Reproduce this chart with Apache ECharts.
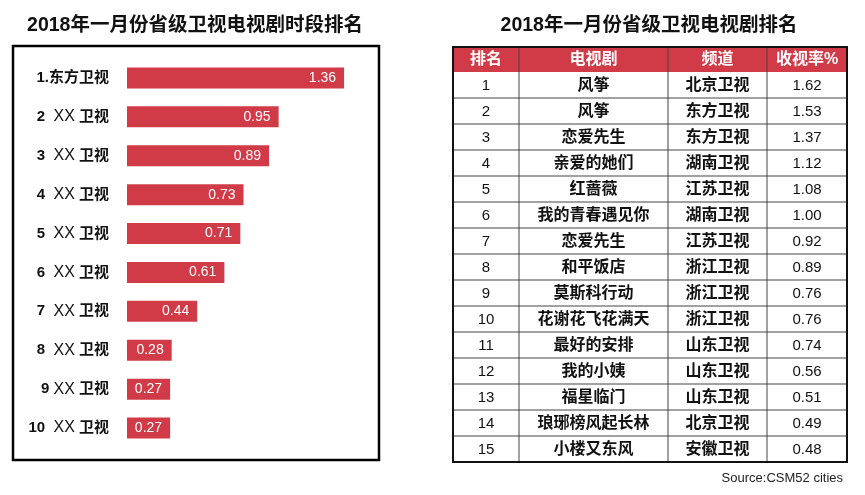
<!DOCTYPE html>
<html>
<head>
<meta charset="utf-8">
<script src="https://cdn.jsdelivr.net/npm/echarts@6/dist/echarts.min.js"></script>
<style>
  html, body { margin: 0; padding: 0; background: #fff; }
  #main { width: 865px; height: 495px; }
</style>
</head>
<body>
<div id="main"></div>
<script>
// 左边：时段排名
const channels = ["1.东方卫视", "2  XX 卫视", "3  XX 卫视", "4  XX 卫视", "5  XX 卫视",
  "6  XX 卫视", "7  XX 卫视", "8  XX 卫视", "9 XX 卫视", "10  XX 卫视"];
const slotRatings = [1.36, 0.95, 0.89, 0.73, 0.71, 0.61, 0.44, 0.28, 0.27, 0.27];

// 右边：电视剧排名表
const headers = ["排名", "电视剧", "频道", "收视率%"];
const ranks = ["1", "2", "3", "4", "5", "6", "7", "8", "9", "10", "11", "12", "13", "14", "15"];
const dramas = ["风筝", "风筝", "恋爱先生", "亲爱的她们", "红蔷薇", "我的青春遇见你", "恋爱先生",
  "和平饭店", "莫斯科行动", "花谢花飞花满天", "最好的安排", "我的小姨", "福星临门", "琅琊榜风起长林", "小楼又东风"];
const dramaChannels = ["北京卫视", "东方卫视", "东方卫视", "湖南卫视", "江苏卫视", "湖南卫视", "江苏卫视",
  "浙江卫视", "浙江卫视", "浙江卫视", "山东卫视", "山东卫视", "山东卫视", "北京卫视", "安徽卫视"];
const dramaRatings = ["1.62", "1.53", "1.37", "1.12", "1.08", "1.00", "0.92", "0.89", "0.76", "0.76",
  "0.74", "0.56", "0.51", "0.49", "0.48"];

const RED = "#d13b47";
const FONT = "'Liberation Sans', 'Noto Sans CJK SC', sans-serif";

// 表格布局（像素）
const T_LEFT = 453, T_RIGHT = 847, T_TOP = 47, HEAD_H = 25, ROW_H = 26;
const colEdges = [0, 66, 215, 314, 394]; // 相对表格左边
const tableBottom = T_TOP + HEAD_H + ROW_H * ranks.length;

let mycharts = echarts.init(document.getElementById("main"));

let graphics = [
  // 左边框
  {
    type: "rect",
    shape: { x: 13, y: 46, width: 366, height: 414 },
    style: { fill: "none", stroke: "#000", lineWidth: 2.5 },
    z: 10,
  },
  // 表头
  {
    type: "rect",
    shape: { x: T_LEFT, y: T_TOP, width: T_RIGHT - T_LEFT, height: HEAD_H },
    style: { fill: RED },
  },
  // 表格外框
  {
    type: "rect",
    shape: { x: T_LEFT, y: T_TOP, width: T_RIGHT - T_LEFT, height: tableBottom - T_TOP },
    style: { fill: "none", stroke: "#111", lineWidth: 2 },
    z: 10,
  },
  {
    type: "text",
    right: 22,
    top: 472,
    style: { text: "Source:CSM52 cities", font: "13px " + FONT, fill: "#222" },
  },
];
headers.forEach((h, i) => {
  graphics.push({
    type: "text",
    x: T_LEFT + (colEdges[i] + colEdges[i + 1]) / 2,
    y: T_TOP + HEAD_H / 2,
    style: {
      text: h, fill: "#fff", font: "bold 16px " + FONT,
      align: "center", verticalAlign: "middle",
    },
  });
  if (i > 0) {
    graphics.push({
      type: "line",
      shape: { x1: T_LEFT + colEdges[i], y1: T_TOP, x2: T_LEFT + colEdges[i], y2: tableBottom },
      style: { stroke: "#444", lineWidth: 1 },
      z: 5,
    });
  }
});

let option = {
  animation: false,
  textStyle: { fontFamily: FONT },
  title: [
    {
      text: "2018年一月份省级卫视电视剧时段排名",
      left: 190,
      top: 11,
      textAlign: "center",
      textStyle: { fontSize: 19.5, fontWeight: "bold", color: "#111", fontFamily: FONT },
    },
    {
      text: "2018年一月份省级卫视电视剧排名",
      left: 644,
      top: 11,
      textAlign: "center",
      textStyle: { fontSize: 19.5, fontWeight: "bold", color: "#111", fontFamily: FONT },
    },
  ],
  grid: [
    { left: 127, top: 58.5, width: 255.4, height: 389 },
    { left: T_LEFT, top: T_TOP + HEAD_H, width: T_RIGHT - T_LEFT, height: ROW_H * ranks.length },
  ],
  xAxis: [
    { gridIndex: 0, type: "value", min: 0, max: 1.6, show: false },
    { gridIndex: 1, type: "value", min: 0, max: T_RIGHT - T_LEFT, show: false },
  ],
  yAxis: [
    {
      gridIndex: 0,
      type: "category",
      inverse: true,
      data: channels,
      axisLine: { show: false },
      axisTick: { show: false },
      axisLabel: {
        margin: 18,
        color: "#111",
        fontSize: 15,
        fontWeight: "bold",
        fontFamily: FONT,
        formatter: (v) => v.replace("XX", "{x|XX}"),
        rich: {
          x: { fontSize: 16, fontWeight: "normal", color: "#111", fontFamily: FONT },
        },
      },
    },
    {
      gridIndex: 1,
      type: "category",
      inverse: true,
      data: ranks,
      show: false,
    },
  ],
  series: [
    {
      type: "bar",
      xAxisIndex: 0,
      yAxisIndex: 0,
      data: slotRatings,
      barWidth: 21,
      itemStyle: { color: RED },
      label: {
        show: true,
        position: "insideRight",
        color: "#fff",
        fontSize: 14,
        distance: 8,
        fontFamily: FONT,
      },
    },
    {
      type: "custom",
      xAxisIndex: 1,
      yAxisIndex: 1,
      data: ranks.map((r, i) => [i]),
      encode: { y: 0 },
      renderItem: function (params, api) {
        let idx = api.value(0);
        let left = api.coord([0, idx]);
        let h = api.size([0, 1])[1];
        let yTop = left[1] - h / 2;
        let cells = [ranks[idx], dramas[idx], dramaChannels[idx], dramaRatings[idx]];
        let children = [];
        if (idx < ranks.length - 1) {
          children.push({
            type: "line",
            shape: { x1: left[0], y1: yTop + h, x2: left[0] + (T_RIGHT - T_LEFT), y2: yTop + h },
            style: { stroke: "#444", lineWidth: 1 },
          });
        }
        cells.forEach((c, j) => {
          let isText = j === 1 || j === 2;
          children.push({
            type: "text",
            x: left[0] + (colEdges[j] + colEdges[j + 1]) / 2,
            y: left[1] + 1,
            style: {
              text: c,
              fill: "#111",
              font: (isText ? "bold 16px " : "15px ") + FONT,
              align: "center",
              verticalAlign: "middle",
            },
          });
        });
        return { type: "group", children: children };
      },
    },
  ],
  graphic: graphics,
};
mycharts.setOption(option);
</script>
</body>
</html>
